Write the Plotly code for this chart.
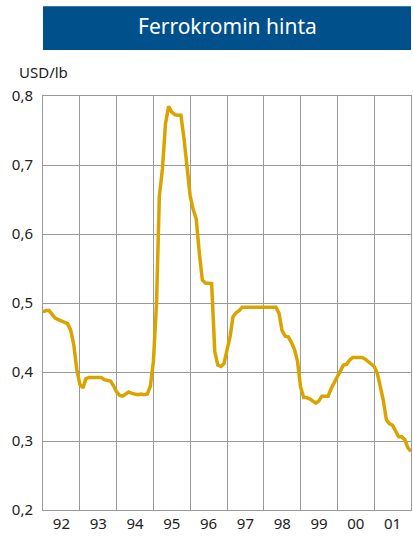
import plotly.graph_objects as go

# Ferrochrome price, USD/lb, monthly Jan 1992 .. Jan 2002
years = list(range(1992, 2002))
year_labels = ['92', '93', '94', '95', '96', '97', '98', '99', '00', '01']

price = [
    0.487, 0.489, 0.489, 0.483, 0.478, 0.476, 0.474, 0.472, 0.470, 0.461, 0.440, 0.404,  # 92
    0.382, 0.377, 0.390, 0.392, 0.392, 0.392, 0.392, 0.392, 0.389, 0.388, 0.387, 0.380,  # 93
    0.371, 0.366, 0.365, 0.368, 0.371, 0.369, 0.368, 0.367, 0.368, 0.367, 0.368, 0.379,  # 94
    0.415, 0.500, 0.655, 0.695, 0.760, 0.785, 0.777, 0.773, 0.772, 0.772, 0.738, 0.697,  # 95
    0.655, 0.635, 0.622, 0.572, 0.533, 0.529, 0.528, 0.528, 0.430, 0.410, 0.408, 0.412,  # 96
    0.432, 0.452, 0.480, 0.486, 0.489, 0.494, 0.494, 0.494, 0.494, 0.494, 0.494, 0.494,  # 97
    0.494, 0.494, 0.494, 0.494, 0.494, 0.485, 0.460, 0.452, 0.451, 0.443, 0.433, 0.416,  # 98
    0.378, 0.363, 0.363, 0.361, 0.358, 0.355, 0.358, 0.365, 0.365, 0.365, 0.376, 0.385,  # 99
    0.392, 0.404, 0.410, 0.411, 0.417, 0.421, 0.421, 0.421, 0.421, 0.419, 0.415, 0.411,  # 00
    0.408, 0.398, 0.380, 0.359, 0.331, 0.325, 0.323, 0.314, 0.306, 0.306, 0.302, 0.290,  # 01
    0.285,
]

months = [f'{1992 + i // 12}-{i % 12 + 1:02d}-01' for i in range(len(price))]

GOLD = '#D9A300'
BLUE = '#00508C'
GRID = '#999999'
FONT = 'Noto Sans'

fig = go.Figure()
fig.add_trace(go.Scatter(
    x=months, y=price, mode='lines',
    line=dict(color=GOLD, width=3.5),
    hoverinfo='skip',
))

# title banner
fig.add_shape(
    type='rect', xref='paper', yref='paper',
    x0=0, x1=1, y0=1.111, y1=1.217,
    fillcolor=BLUE, line_width=0, layer='below',
)
fig.add_annotation(
    text='Ferrokromin hinta', xref='paper', yref='paper',
    x=0.5, y=1.168, xanchor='center', yanchor='middle', showarrow=False,
    font=dict(family=FONT, size=21, color='white'),
)
fig.add_annotation(
    text='USD/lb', xref='paper', yref='paper',
    x=-0.072, y=1.058, xanchor='left', yanchor='middle', showarrow=False,
    font=dict(family=FONT, size=15, color='#222222'),
)

fig.update_layout(
    width=413, height=536,
    margin=dict(l=43, r=2, t=96, b=26),
    paper_bgcolor='white', plot_bgcolor='white',
    separators=',.',
    showlegend=False,
    font=dict(family=FONT, size=15, color='#222222'),
    xaxis=dict(
        type='date',
        range=['1992-01-01', '2002-01-01'],
        dtick='M12', tick0='1992-01-01',
        tickformat='%y', ticklabelmode='period',
        showgrid=True, gridcolor=GRID, gridwidth=1,
        showline=True, linecolor=GRID, linewidth=1, mirror=True,
        ticks='', zeroline=False,
    ),
    yaxis=dict(
        range=[0.2, 0.8], dtick=0.1, tickformat='.1f',
        showgrid=True, gridcolor=GRID, gridwidth=1,
        showline=True, linecolor=GRID, linewidth=1, mirror=True,
        ticks='', zeroline=False, ticklabelstandoff=6,
    ),
)

fig.write_html('out.html', config={'displayModeBar': False},
               post_script="document.body.style.margin='0';")
